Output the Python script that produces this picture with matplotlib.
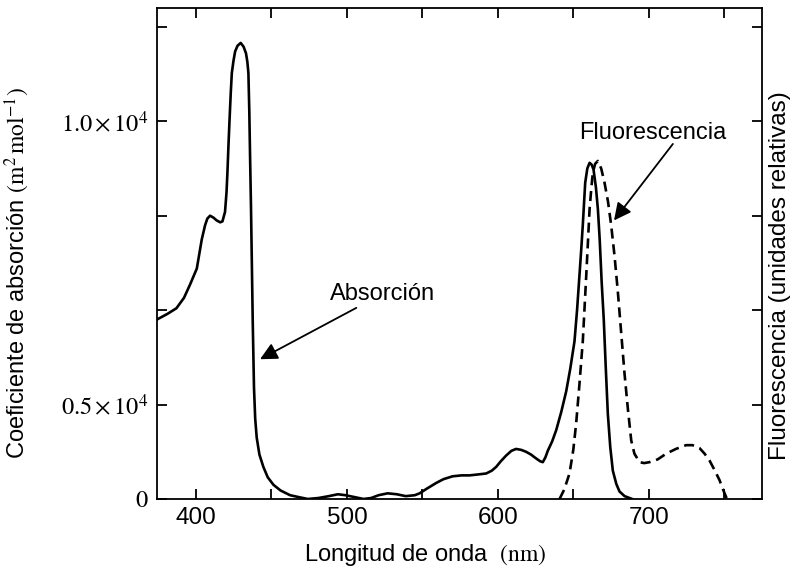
import matplotlib
matplotlib.use('Agg')
import matplotlib.pyplot as plt

plt.rcParams['font.family'] = ['Liberation Sans', 'DejaVu Sans']
plt.rcParams['mathtext.fontset'] = 'stix'

# Absorption spectrum (solid) -- y in tick units (one tick = one unit)
abs_nm = [374, 381, 387, 392, 396, 400.5, 403.8, 406, 407.5, 409.3, 411.5, 413.7, 416, 417.5,
          419.2, 420.2, 420.8, 421.5, 422.1, 423, 423.7, 424.8, 425.9, 427.5, 429.6, 431.5,
          433.1, 434, 434.7, 435.3, 435.8, 436.4, 436.9, 437.6, 438.4, 439.2, 440.2, 442,
          444.6, 447.5, 451.3, 456, 462.3, 468, 474, 481, 488, 494, 499, 505, 511, 516, 521,
          527, 533, 539, 545, 548.2, 553, 559.2, 564, 570, 576, 581.3, 587, 592.3, 596,
          598.9, 602, 605.5, 609, 612.1, 615.5, 618.7, 622, 625.3, 628, 629.8, 631.5, 633.1,
          636, 638.7, 642, 645.3, 648, 650.8, 652.5, 654.1, 655.3, 656.3, 657.9, 659.3,
          660.8, 662.2, 663.4, 665, 666.3, 667.5, 668.8, 670.2, 671.5, 672.9, 674.5, 676.2,
          678.5, 680.6, 684, 689]
abs_val = [1.90, 1.96, 2.02, 2.13, 2.27, 2.44, 2.75, 2.90, 2.97, 3.00, 2.98, 2.95, 2.93, 2.94,
           3.04, 3.25, 3.46, 3.75, 3.98, 4.30, 4.51, 4.64, 4.74, 4.80, 4.83, 4.79,
           4.72, 4.63, 4.51, 4.10, 3.63, 3.10, 2.58, 1.85, 1.18, 0.85, 0.65, 0.47,
           0.34, 0.23, 0.15, 0.09, 0.04, 0.02, 0.00, 0.01, 0.03, 0.05, 0.04, 0.02, 0.00, 0.01, 0.04,
           0.06, 0.05, 0.03, 0.04, 0.06, 0.11, 0.17, 0.21, 0.24, 0.25, 0.25, 0.26, 0.27, 0.30,
           0.34, 0.40, 0.46, 0.51, 0.53, 0.52, 0.50, 0.47, 0.43, 0.40, 0.39, 0.44, 0.51,
           0.61, 0.73, 0.92, 1.14, 1.38, 1.67, 2.00, 2.37, 2.65, 2.90, 3.35, 3.50,
           3.56, 3.54, 3.49, 3.30, 3.07, 2.75, 2.30, 1.90, 1.40, 0.90, 0.55, 0.30,
           0.16, 0.08, 0.03, 0.00]

# Fluorescence spectrum (dashed)
flu_nm = [640.9, 644, 647.5, 650, 651.9, 654, 656.3, 658.6, 660.8, 662, 663, 664.5, 666.3,
          668.5, 670.7, 673, 675.1, 677.3, 679.5, 681.8, 684, 686.2, 688.4, 690.5, 693.9,
          697, 700.5, 706, 711.6, 718, 724.8, 729, 733.6, 737, 740.2, 743.5, 746.9, 749,
          751.3, 752]
flu_val = [0.00, 0.10, 0.27, 0.52, 0.80, 1.20, 1.67, 2.37, 3.07, 3.30, 3.46, 3.55, 3.58,
           3.50, 3.35, 3.15, 2.90, 2.58, 2.20, 1.75, 1.32, 0.95, 0.62, 0.48, 0.39,
           0.38, 0.39, 0.42, 0.48, 0.53, 0.57, 0.57, 0.54, 0.48, 0.41, 0.31, 0.20, 0.11,
           0.02, 0.00]

x_ticks = [400, 450, 500, 550, 600, 650, 700, 750]
x_labels = ['400', '', '500', '', '600', '', '700', '']
y_ticks = [0, 1, 2, 3, 4, 5]
y_labels = ['$0$', r'$0.5\times10^4$', '', '', r'$1.0\times10^4$', '']

fig = plt.figure(figsize=(7.92, 5.70), dpi=100)
ax = fig.add_axes([0.198, 0.1246, 0.764, 0.8614])

ax.plot(abs_nm, abs_val, color='black', lw=1.9)
ax.plot(flu_nm, flu_val, color='black', lw=1.9, linestyle=(0, (3.8, 2.2)))

ax.set_xlim(374, 775)
ax.set_ylim(0, 5.2)
ax.set_xticks(x_ticks)
ax.set_xticklabels(x_labels)
ax.set_yticks(y_ticks)
ax.set_yticklabels(y_labels)
ax.tick_params(direction='in', length=7, width=1.3, top=True, right=True,
               labelsize=17.5, pad=6)
for s in ax.spines.values():
    s.set_linewidth(1.3)

ax.set_xlabel(r'Longitud de onda  $\mathrm{(nm)}$', fontsize=17)
ax.xaxis.set_label_coords(0.443, -0.088)
ax.set_ylabel(r'Coeficiente de absorción $\mathrm{(m^2\,mol^{-1})}$', fontsize=17)
ax.yaxis.set_label_coords(-0.207, 0.46)
ax.text(1.011, 0.455, 'Fluorescencia (unidades relativas)', transform=ax.transAxes,
        rotation=90, va='center', ha='left', fontsize=17.5)

arrow = dict(arrowstyle='-|>', mutation_scale=26, lw=1.3, color='black',
             shrinkA=0, shrinkB=0)
ax.annotate('Absorción', xy=(442.4, 1.48), xytext=(488.5, 2.17),
            fontsize=17, va='center', ha='left', arrowprops=arrow)
ax.annotate('', xy=(677, 2.95), xytext=(716, 3.76), arrowprops=arrow)
ax.text(654, 3.88, 'Fluorescencia', fontsize=17, va='center', ha='left')

plt.savefig('out.png', dpi=100)
